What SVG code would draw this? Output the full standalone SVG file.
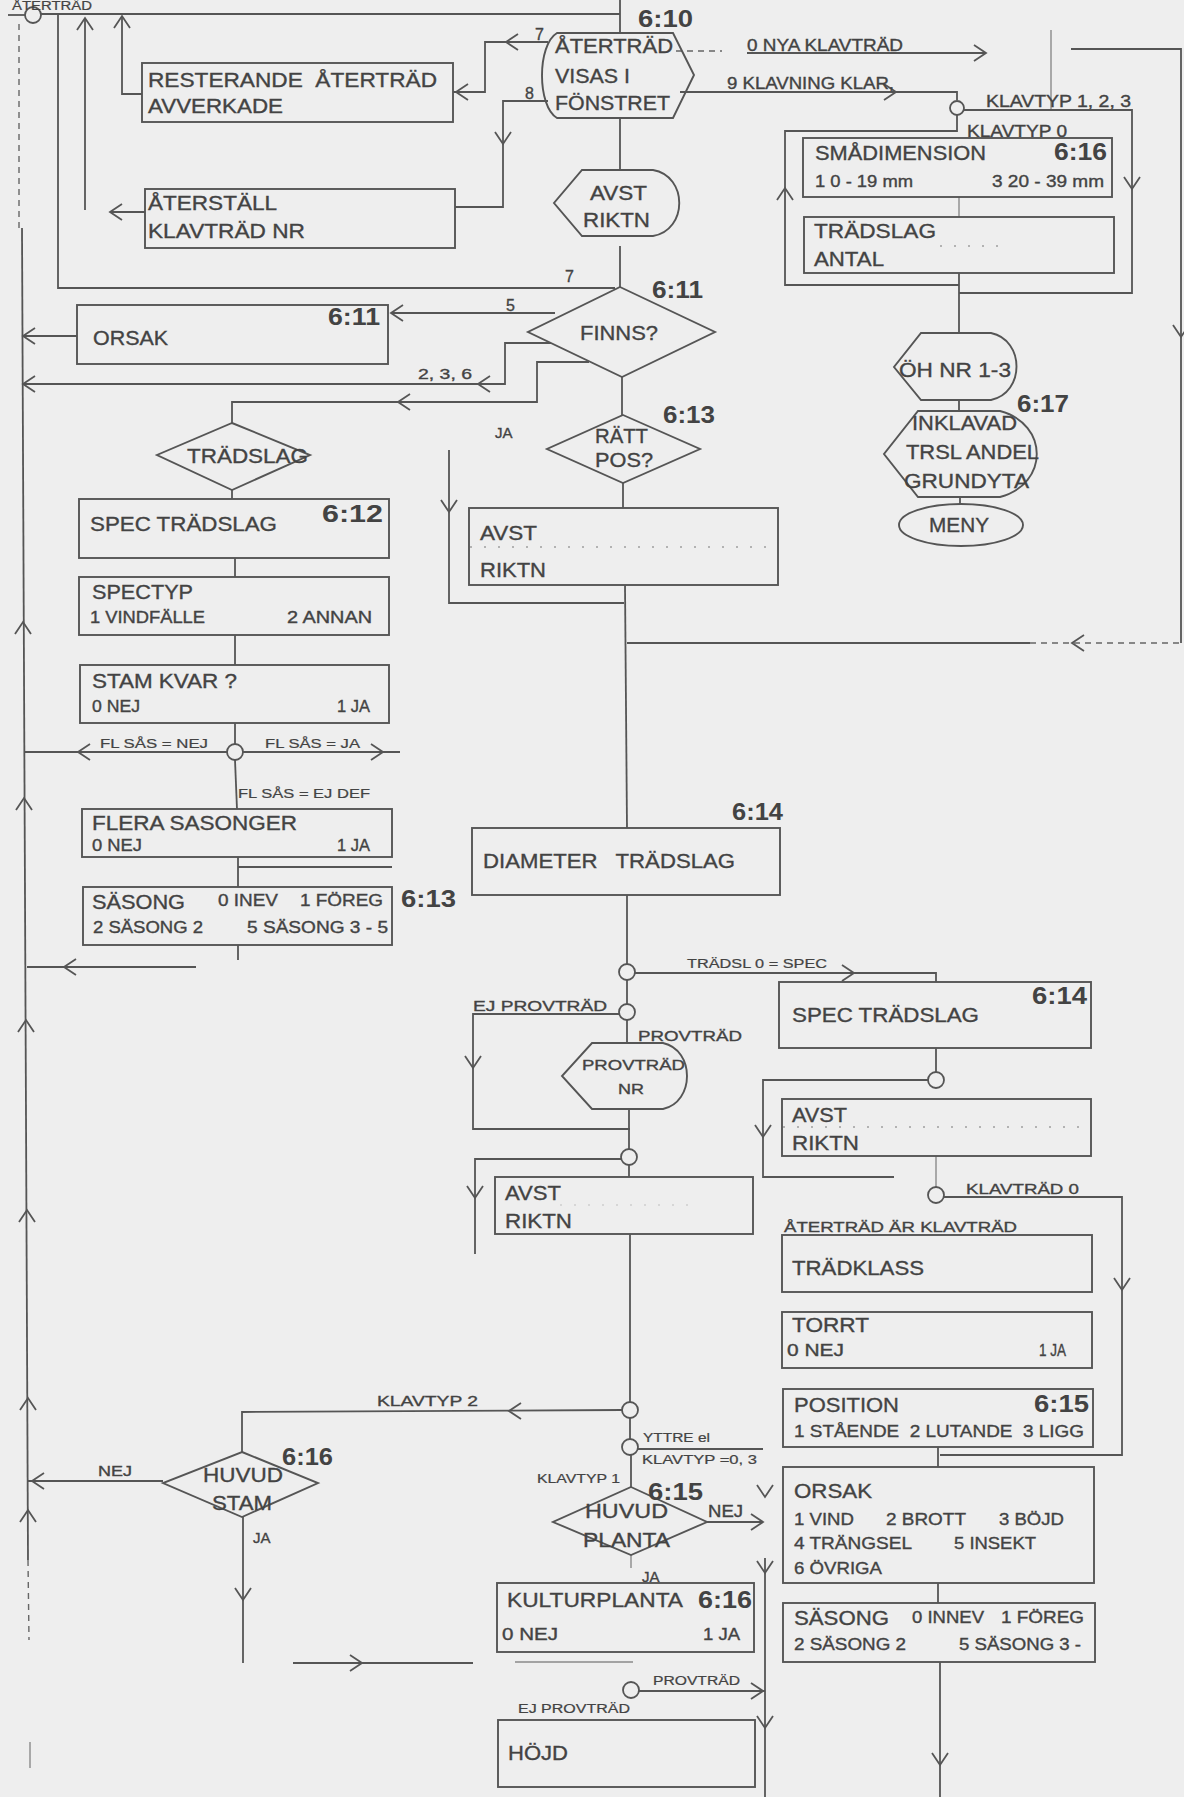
<svg xmlns="http://www.w3.org/2000/svg" xmlns:xlink="http://www.w3.org/1999/xlink" width="1184" height="1797" viewBox="0 0 1184 1797">
<style>
.bx{fill:none;stroke:#555;stroke-width:1.9}
.ln{fill:none;stroke:#555;stroke-width:1.8}
.fa{fill:none;stroke:#8a8a8a;stroke-width:1.4}
.da{fill:none;stroke:#666;stroke-width:1.4;stroke-dasharray:6 5}
.dot{fill:none;stroke:#777;stroke-width:1.2;stroke-dasharray:2 12}
text{font-family:"Liberation Sans",Arial,sans-serif;fill:#434343;stroke:#434343;stroke-width:0.35}
.t{font-size:21px}
.s{font-size:16px}
.m{font-size:15px}
.x{font-size:12px;stroke-width:0.2}
.n{font-size:23px;font-weight:bold;stroke-width:0}
</style>
<defs>
<path id="ah" d="M-12,-8 L0,0 L-12,8" fill="none" stroke="#555" stroke-width="1.8"/>
</defs>
<rect x="0" y="0" width="1184" height="1797" fill="#eeeeee"/>

<g id="connectors">
<path class="ln" d="M8,15 H25"/>
<circle class="ln" cx="33" cy="15" r="8"/>
<path class="ln" d="M41,14 H620 M620,0 V33"/>
<path class="da" d="M19,24 V228"/>
<path class="ln" d="M22,228 L28,1560"/>
<path class="da" d="M28,1560 L29,1640"/>
<path class="fa" d="M30,1742 V1768"/>
<path class="ln" d="M58,14 V288 H615"/>
<path class="ln" d="M85,210 V19"/>
<use xlink:href="#ah" transform="translate(85,18) rotate(-90)"/>
<path class="ln" d="M110,212 H145"/>
<use xlink:href="#ah" transform="translate(110,212) rotate(180)"/>
<path class="ln" d="M142,94 H122 V17"/>
<use xlink:href="#ah" transform="translate(122,16) rotate(-90)"/>
<path class="ln" d="M548,42 H485 V92 H453"/>
<use xlink:href="#ah" transform="translate(506,42) rotate(180)"/>
<use xlink:href="#ah" transform="translate(456,92) rotate(180)"/>
<path class="ln" d="M548,101 H503 V207 H455"/>
<use xlink:href="#ah" transform="translate(503,144) rotate(90)"/>
<path class="ln" d="M620,118 V170"/>
<path class="ln" d="M620,246 V287"/>
<path class="da" d="M676,51 H722"/>
<path class="ln" d="M747,53 H986"/>
<use xlink:href="#ah" transform="translate(986,53)"/>
<path class="fa" d="M1051,30 V110"/>
<path class="ln" d="M1071,49 H1181 V643"/>
<use xlink:href="#ah" transform="translate(1181,337) rotate(90)"/>
<path class="ln" d="M680,92 H957 V100"/>
<use xlink:href="#ah" transform="translate(896,92)"/>
<circle class="ln" cx="957" cy="108" r="7"/>
<path class="ln" d="M964,110 H1132 V293 H959"/>
<use xlink:href="#ah" transform="translate(1132,189) rotate(90)"/>
<path class="ln" d="M957,115 V131 H785 V285 H959"/>
<use xlink:href="#ah" transform="translate(785,188) rotate(-90)"/>
<path class="fa" d="M959,197 V217"/>
<path class="ln" d="M959,273 V333"/>
<path class="ln" d="M959,400 V411"/>
<path class="ln" d="M960,497 V504"/>
<path class="ln" d="M555,313 H391"/>
<use xlink:href="#ah" transform="translate(391,313) rotate(180)"/>
<path class="ln" d="M77,336 H23"/>
<use xlink:href="#ah" transform="translate(23,336) rotate(180)"/>
<path class="ln" d="M551,343 H505 V384 H23"/>
<use xlink:href="#ah" transform="translate(478,384) rotate(180)"/>
<use xlink:href="#ah" transform="translate(23,384) rotate(180)"/>
<path class="ln" d="M589,362 H537 V402 H232 V423"/>
<use xlink:href="#ah" transform="translate(398,402) rotate(180)"/>
<path class="ln" d="M622,377 V415"/>
<path class="ln" d="M623,483 V508"/>
<path class="ln" d="M449,450 V603 H624"/>
<use xlink:href="#ah" transform="translate(449,512) rotate(90)"/>
<path class="ln" d="M625,585 L627,828"/>
<path class="ln" d="M627,643 H1030"/>
<path class="da" d="M1030,643 H1181"/>
<use xlink:href="#ah" transform="translate(1072,643) rotate(180)"/>
<path class="ln" d="M232,490 V499 M235,558 V577 M235,635 V665 M235,723 V744"/>
<circle class="ln" cx="235" cy="752" r="8"/>
<path class="ln" d="M227,752 H25 M243,752 H400"/>
<use xlink:href="#ah" transform="translate(78,752) rotate(180)"/>
<use xlink:href="#ah" transform="translate(383,752)"/>
<path class="ln" d="M235,760 L237,809"/>
<path class="ln" d="M238,857 V887 M238,867 H392"/>
<path class="ln" d="M238,945 V960"/>
<path class="ln" d="M27,967 H196"/>
<use xlink:href="#ah" transform="translate(64,967) rotate(180)"/>
<use xlink:href="#ah" transform="translate(23,622) rotate(-90)"/>
<use xlink:href="#ah" transform="translate(24,798) rotate(-90)"/>
<use xlink:href="#ah" transform="translate(26,1020) rotate(-90)"/>
<use xlink:href="#ah" transform="translate(27,1210) rotate(-90)"/>
<use xlink:href="#ah" transform="translate(28,1398) rotate(-90)"/>
<use xlink:href="#ah" transform="translate(28,1510) rotate(-90)"/>
<path class="ln" d="M627,895 V964"/>
<circle class="ln" cx="627" cy="972" r="8"/>
<path class="ln" d="M635,973 H936 V982"/>
<use xlink:href="#ah" transform="translate(854,973)"/>
<path class="ln" d="M627,980 V1004"/>
<circle class="ln" cx="627" cy="1012" r="8"/>
<path class="ln" d="M619,1014 H473 V1129 H630"/>
<use xlink:href="#ah" transform="translate(473,1068) rotate(90)"/>
<path class="ln" d="M627,1020 V1043"/>
<path class="ln" d="M629,1109 V1149"/>
<circle class="ln" cx="629" cy="1157" r="8"/>
<path class="ln" d="M621,1159 H475 V1254"/>
<use xlink:href="#ah" transform="translate(475,1198) rotate(90)"/>
<path class="ln" d="M629,1165 V1177"/>
<path class="ln" d="M630,1234 V1402"/>
<circle class="ln" cx="630" cy="1410" r="8"/>
<path class="ln" d="M622,1410 L242,1412 V1452"/>
<use xlink:href="#ah" transform="translate(509,1411) rotate(180)"/>
<path class="ln" d="M630,1418 V1439"/>
<circle class="ln" cx="630" cy="1447" r="8"/>
<path class="ln" d="M638,1449 H763"/>
<path class="ln" d="M631,1455 V1487"/>
<path class="ln" d="M707,1522 H763"/>
<use xlink:href="#ah" transform="translate(763,1522)"/>
<use xlink:href="#ah" transform="translate(765,1497) rotate(90)"/>
<path class="ln" d="M765,1558 V1797"/>
<use xlink:href="#ah" transform="translate(765,1573) rotate(90)"/>
<use xlink:href="#ah" transform="translate(765,1728) rotate(90)"/>
<path class="fa" d="M631,1555 V1568"/>
<path class="ln" d="M163,1481 H27"/>
<use xlink:href="#ah" transform="translate(32,1481) rotate(180)"/>
<path class="ln" d="M243,1517 V1663"/>
<use xlink:href="#ah" transform="translate(243,1600) rotate(90)"/>
<path class="ln" d="M293,1663 H473"/>
<path class="fa" d="M515,1662 H633"/>
<use xlink:href="#ah" transform="translate(362,1663)"/>
<circle class="ln" cx="631" cy="1690" r="8"/>
<path class="ln" d="M639,1691 H765"/>
<use xlink:href="#ah" transform="translate(763,1691)"/>
<path class="ln" d="M936,1048 V1072"/>
<circle class="ln" cx="936" cy="1080" r="8"/>
<path class="ln" d="M928,1080 H763 V1177 H894"/>
<use xlink:href="#ah" transform="translate(763,1137) rotate(90)"/>
<path class="fa" d="M936,1156 V1187"/>
<circle class="ln" cx="936" cy="1195" r="8"/>
<path class="ln" d="M944,1197 H1122 V1455 H940"/>
<use xlink:href="#ah" transform="translate(1122,1290) rotate(90)"/>
<path class="ln" d="M938,1447 V1467"/>
<path class="ln" d="M938,1583 V1603"/>
<path class="ln" d="M940,1662 V1797"/>
<use xlink:href="#ah" transform="translate(940,1765) rotate(90)"/>
</g>

<g id="connector-labels">
<text class="x" x="12" y="10" textLength="80" lengthAdjust="spacingAndGlyphs">ÅTERTRÄD</text>
<text class="s" x="535" y="40">7</text>
<text class="s" x="525" y="99">8</text>
<text class="s" x="565" y="282">7</text>
<text class="s" x="506" y="311">5</text>
<text class="m" x="418" y="379" textLength="54" lengthAdjust="spacingAndGlyphs">2, 3, 6</text>
<text class="m" x="495" y="438">JA</text>
<text class="s" x="747" y="51" textLength="156" lengthAdjust="spacingAndGlyphs">0 NYA KLAVTRÄD</text>
<text class="s" x="727" y="89" textLength="167" lengthAdjust="spacingAndGlyphs">9 KLAVNING KLAR,</text>
<text class="s" x="986" y="107" textLength="145" lengthAdjust="spacingAndGlyphs">KLAVTYP 1, 2, 3</text>
<text class="s" x="967" y="137" textLength="100" lengthAdjust="spacingAndGlyphs">KLAVTYP 0</text>
<text class="x" x="100" y="748" textLength="108" lengthAdjust="spacingAndGlyphs">FL SÅS = NEJ</text>
<text class="x" x="265" y="748" textLength="95" lengthAdjust="spacingAndGlyphs">FL SÅS = JA</text>
<text class="x" x="238" y="798" textLength="132" lengthAdjust="spacingAndGlyphs">FL SÅS = EJ DEF</text>
<text class="x" x="687" y="968" textLength="140" lengthAdjust="spacingAndGlyphs">TRÄDSL 0 = SPEC</text>
<text class="m" x="473" y="1011" textLength="134" lengthAdjust="spacingAndGlyphs">EJ PROVTRÄD</text>
<text class="m" x="638" y="1041" textLength="104" lengthAdjust="spacingAndGlyphs">PROVTRÄD</text>
<text class="m" x="966" y="1194" textLength="113" lengthAdjust="spacingAndGlyphs">KLAVTRÄD 0</text>
<text class="m" x="784" y="1232" textLength="233" lengthAdjust="spacingAndGlyphs">ÅTERTRÄD ÄR KLAVTRÄD</text>
<text class="m" x="377" y="1406" textLength="101" lengthAdjust="spacingAndGlyphs">KLAVTYP 2</text>
<text class="m" x="98" y="1476" textLength="34" lengthAdjust="spacingAndGlyphs">NEJ</text>
<text class="m" x="253" y="1543">JA</text>
<text class="x" x="643" y="1442" textLength="67" lengthAdjust="spacingAndGlyphs">YTTRE el</text>
<text class="x" x="642" y="1464" textLength="115" lengthAdjust="spacingAndGlyphs">KLAVTYP =0, 3</text>
<text class="x" x="537" y="1483" textLength="83" lengthAdjust="spacingAndGlyphs">KLAVTYP 1</text>
<text class="s" x="708" y="1517" textLength="35" lengthAdjust="spacingAndGlyphs">NEJ</text>
<text class="m" x="642" y="1582">JA</text>
<text class="x" x="653" y="1685" textLength="87" lengthAdjust="spacingAndGlyphs">PROVTRÄD</text>
<text class="x" x="518" y="1713" textLength="112" lengthAdjust="spacingAndGlyphs">EJ PROVTRÄD</text>
</g>

<g id="n-resterande">
<rect class="bx" x="142" y="63" width="311" height="59"/>
<text class="t" x="148" y="87" xml:space="preserve" textLength="289" lengthAdjust="spacingAndGlyphs">RESTERANDE  ÅTERTRÄD</text>
<text class="t" x="148" y="113" textLength="135" lengthAdjust="spacingAndGlyphs">AVVERKADE</text>
</g>
<g id="n-aterstall">
<rect class="bx" x="145" y="189" width="310" height="59"/>
<text class="t" x="148" y="210" textLength="129" lengthAdjust="spacingAndGlyphs">ÅTERSTÄLL</text>
<text class="t" x="148" y="238" textLength="157" lengthAdjust="spacingAndGlyphs">KLAVTRÄD NR</text>
</g>
<g id="n-610">
<path class="bx" d="M557,33 L673,33 L694,75 L673,118 L557,118 C537,106 537,45 557,33 Z"/>
<text class="t" x="555" y="53" textLength="118" lengthAdjust="spacingAndGlyphs">ÅTERTRÄD</text>
<text class="t" x="555" y="83" textLength="75" lengthAdjust="spacingAndGlyphs">VISAS I</text>
<text class="t" x="555" y="110" textLength="115" lengthAdjust="spacingAndGlyphs">FÖNSTRET</text>
<text class="n" x="638" y="27" textLength="55" lengthAdjust="spacingAndGlyphs">6:10</text>
</g>
<g id="n-avst-top">
<path class="bx" d="M582,170 L653,170 C688,176 688,230 653,236 L582,236 L554,203 Z"/>
<text class="t" x="590" y="200" textLength="57" lengthAdjust="spacingAndGlyphs">AVST</text>
<text class="t" x="583" y="227" textLength="67" lengthAdjust="spacingAndGlyphs">RIKTN</text>
</g>
<g id="n-finns">
<polygon class="bx" points="620,287 715,332 622,377 528,332"/>
<text class="t" x="580" y="340" textLength="78" lengthAdjust="spacingAndGlyphs">FINNS?</text>
<text class="n" x="652" y="298" textLength="51" lengthAdjust="spacingAndGlyphs">6:11</text>
</g>
<g id="n-orsak-l">
<rect class="bx" x="77" y="305" width="311" height="59"/>
<text class="t" x="93" y="345" textLength="75" lengthAdjust="spacingAndGlyphs">ORSAK</text>
<text class="n" x="328" y="325" textLength="52" lengthAdjust="spacingAndGlyphs">6:11</text>
</g>
<g id="n-ratt">
<polygon class="bx" points="623,415 700,449 623,483 547,449"/>
<text class="t" x="595" y="443" textLength="53" lengthAdjust="spacingAndGlyphs">RÄTT</text>
<text class="t" x="595" y="467" textLength="58" lengthAdjust="spacingAndGlyphs">POS?</text>
<text class="n" x="663" y="423" textLength="52" lengthAdjust="spacingAndGlyphs">6:13</text>
</g>
<g id="n-avst-c">
<rect class="bx" x="469" y="508" width="309" height="77"/>
<path class="dot" d="M470,547 H778"/>
<text class="t" x="480" y="540" textLength="57" lengthAdjust="spacingAndGlyphs">AVST</text>
<text class="t" x="480" y="577" textLength="66" lengthAdjust="spacingAndGlyphs">RIKTN</text>
</g>
<g id="n-smadim">
<rect class="bx" x="803" y="138" width="309" height="59"/>
<text class="t" x="815" y="160" textLength="171" lengthAdjust="spacingAndGlyphs">SMÅDIMENSION</text>
<text class="n" x="1054" y="160" textLength="53" lengthAdjust="spacingAndGlyphs">6:16</text>
<text class="s" x="815" y="187" textLength="98" lengthAdjust="spacingAndGlyphs">1 0 - 19 mm</text>
<text class="s" x="992" y="187" textLength="112" lengthAdjust="spacingAndGlyphs">3 20 - 39 mm</text>
</g>
<g id="n-tradslag-antal">
<rect class="bx" x="804" y="217" width="310" height="56"/>
<path class="dot" d="M940,246 H1010"/>
<text class="t" x="814" y="238" textLength="122" lengthAdjust="spacingAndGlyphs">TRÄDSLAG</text>
<text class="t" x="814" y="266" textLength="70" lengthAdjust="spacingAndGlyphs">ANTAL</text>
</g>
<g id="n-oh">
<path class="bx" d="M921,333 L991,333 C1025,340 1025,393 991,400 L921,400 L894,367 Z"/>
<text class="t" x="899" y="377" textLength="112" lengthAdjust="spacingAndGlyphs">ÖH NR 1-3</text>
</g>
<g id="n-inklavad">
<path class="bx" d="M918,411 L1000,411 C1049,424 1049,484 1000,497 L918,497 L884,454 Z"/>
<text class="t" x="912" y="430" textLength="105" lengthAdjust="spacingAndGlyphs">INKLAVAD</text>
<text class="t" x="906" y="459" textLength="133" lengthAdjust="spacingAndGlyphs">TRSL ANDEL</text>
<text class="t" x="904" y="488" textLength="125" lengthAdjust="spacingAndGlyphs">GRUNDYTA</text>
<text class="n" x="1017" y="412" textLength="52" lengthAdjust="spacingAndGlyphs">6:17</text>
</g>
<g id="n-meny">
<ellipse class="bx" cx="961" cy="525" rx="62" ry="21"/>
<text class="t" x="929" y="532" textLength="60" lengthAdjust="spacingAndGlyphs">MENY</text>
</g>
<g id="n-tradslag-d">
<polygon class="bx" points="232,423 310,455 232,490 157,455"/>
<text class="t" x="187" y="463" textLength="121" lengthAdjust="spacingAndGlyphs">TRÄDSLAG</text>
</g>
<g id="n-spec-l">
<rect class="bx" x="79" y="499" width="310" height="59"/>
<text class="t" x="90" y="531" textLength="187" lengthAdjust="spacingAndGlyphs">SPEC TRÄDSLAG</text>
<text class="n" x="322" y="522" textLength="61" lengthAdjust="spacingAndGlyphs">6:12</text>
</g>
<g id="n-spectyp">
<rect class="bx" x="79" y="577" width="310" height="58"/>
<text class="t" x="92" y="599" textLength="101" lengthAdjust="spacingAndGlyphs">SPECTYP</text>
<text class="s" x="90" y="623" textLength="115" lengthAdjust="spacingAndGlyphs">1 VINDFÄLLE</text>
<text class="s" x="287" y="623" textLength="85" lengthAdjust="spacingAndGlyphs">2 ANNAN</text>
</g>
<g id="n-stamkvar">
<rect class="bx" x="80" y="665" width="309" height="58"/>
<text class="t" x="92" y="688" textLength="145" lengthAdjust="spacingAndGlyphs">STAM KVAR ?</text>
<text class="s" x="92" y="712" textLength="48" lengthAdjust="spacingAndGlyphs">0 NEJ</text>
<text class="s" x="337" y="712" textLength="33" lengthAdjust="spacingAndGlyphs">1 JA</text>
</g>
<g id="n-flera">
<rect class="bx" x="82" y="809" width="310" height="48"/>
<text class="t" x="92" y="830" textLength="205" lengthAdjust="spacingAndGlyphs">FLERA SASONGER</text>
<text class="s" x="92" y="851" textLength="50" lengthAdjust="spacingAndGlyphs">0 NEJ</text>
<text class="s" x="337" y="851" textLength="33" lengthAdjust="spacingAndGlyphs">1 JA</text>
</g>
<g id="n-sasong-l">
<rect class="bx" x="83" y="887" width="309" height="58"/>
<text class="t" x="92" y="909" textLength="93" lengthAdjust="spacingAndGlyphs">SÄSONG</text>
<text class="s" x="218" y="906" textLength="60" lengthAdjust="spacingAndGlyphs">0 INEV</text>
<text class="s" x="300" y="906" textLength="83" lengthAdjust="spacingAndGlyphs">1 FÖREG</text>
<text class="s" x="93" y="933" textLength="110" lengthAdjust="spacingAndGlyphs">2 SÄSONG 2</text>
<text class="s" x="247" y="933" textLength="141" lengthAdjust="spacingAndGlyphs">5 SÄSONG 3 - 5</text>
<text class="n" x="401" y="907" textLength="55" lengthAdjust="spacingAndGlyphs">6:13</text>
</g>
<g id="n-diameter">
<rect class="bx" x="472" y="828" width="308" height="67"/>
<text class="t" x="483" y="868" xml:space="preserve" textLength="252" lengthAdjust="spacingAndGlyphs">DIAMETER   TRÄDSLAG</text>
<text class="n" x="732" y="820" textLength="51" lengthAdjust="spacingAndGlyphs">6:14</text>
</g>
<g id="n-provtrad-nr">
<path class="bx" d="M592,1043 L663,1043 C695,1050 695,1102 663,1109 L592,1109 L562,1076 Z"/>
<text class="m" x="582" y="1070" textLength="103" lengthAdjust="spacingAndGlyphs">PROVTRÄD</text>
<text class="m" x="618" y="1094" textLength="26" lengthAdjust="spacingAndGlyphs">NR</text>
</g>
<g id="n-avst-m">
<rect class="bx" x="495" y="1177" width="258" height="57"/>
<path class="dot" d="M560,1205 H700" stroke-opacity="0.4"/>
<text class="t" x="505" y="1200" textLength="56" lengthAdjust="spacingAndGlyphs">AVST</text>
<text class="t" x="505" y="1228" textLength="67" lengthAdjust="spacingAndGlyphs">RIKTN</text>
</g>
<g id="n-spec-r">
<rect class="bx" x="779" y="982" width="312" height="66"/>
<text class="t" x="792" y="1022" textLength="187" lengthAdjust="spacingAndGlyphs">SPEC TRÄDSLAG</text>
<text class="n" x="1032" y="1004" textLength="55" lengthAdjust="spacingAndGlyphs">6:14</text>
</g>
<g id="n-avst-r">
<rect class="bx" x="782" y="1099" width="309" height="57"/>
<path class="dot" d="M783,1127 H1090"/>
<text class="t" x="792" y="1122" textLength="55" lengthAdjust="spacingAndGlyphs">AVST</text>
<text class="t" x="792" y="1150" textLength="67" lengthAdjust="spacingAndGlyphs">RIKTN</text>
</g>
<g id="n-tradklass">
<rect class="bx" x="782" y="1235" width="310" height="57"/>
<text class="t" x="792" y="1275" textLength="132" lengthAdjust="spacingAndGlyphs">TRÄDKLASS</text>
</g>
<g id="n-torrt">
<rect class="bx" x="782" y="1312" width="310" height="56"/>
<text class="t" x="792" y="1332" textLength="77" lengthAdjust="spacingAndGlyphs">TORRT</text>
<text class="s" x="787" y="1356" textLength="57" lengthAdjust="spacingAndGlyphs">0 NEJ</text>
<text class="s" x="1039" y="1356" textLength="27" lengthAdjust="spacingAndGlyphs">1 JA</text>
</g>
<g id="n-position">
<rect class="bx" x="783" y="1389" width="310" height="58"/>
<text class="t" x="794" y="1412" textLength="105" lengthAdjust="spacingAndGlyphs">POSITION</text>
<text class="n" x="1034" y="1412" textLength="55" lengthAdjust="spacingAndGlyphs">6:15</text>
<text style="font-size:17px" x="794" y="1437" xml:space="preserve" textLength="290" lengthAdjust="spacingAndGlyphs">1 STÅENDE  2 LUTANDE  3 LIGG</text>
</g>
<g id="n-orsak-r">
<rect class="bx" x="783" y="1467" width="311" height="116"/>
<text class="t" x="794" y="1498" textLength="78" lengthAdjust="spacingAndGlyphs">ORSAK</text>
<text style="font-size:17px" x="794" y="1525" textLength="60" lengthAdjust="spacingAndGlyphs">1 VIND</text>
<text style="font-size:17px" x="886" y="1525" textLength="80" lengthAdjust="spacingAndGlyphs">2 BROTT</text>
<text style="font-size:17px" x="999" y="1525" textLength="65" lengthAdjust="spacingAndGlyphs">3 BÖJD</text>
<text style="font-size:17px" x="794" y="1549" textLength="118" lengthAdjust="spacingAndGlyphs">4 TRÄNGSEL</text>
<text style="font-size:17px" x="954" y="1549" textLength="82" lengthAdjust="spacingAndGlyphs">5 INSEKT</text>
<text style="font-size:17px" x="794" y="1574" textLength="88" lengthAdjust="spacingAndGlyphs">6 ÖVRIGA</text>
</g>
<g id="n-sasong-r">
<rect class="bx" x="783" y="1603" width="312" height="59"/>
<text class="t" x="794" y="1625" textLength="95" lengthAdjust="spacingAndGlyphs">SÄSONG</text>
<text class="s" x="912" y="1623" textLength="72" lengthAdjust="spacingAndGlyphs">0 INNEV</text>
<text class="s" x="1001" y="1623" textLength="83" lengthAdjust="spacingAndGlyphs">1 FÖREG</text>
<text class="s" x="794" y="1650" textLength="112" lengthAdjust="spacingAndGlyphs">2 SÄSONG 2</text>
<text class="s" x="959" y="1650" textLength="122" lengthAdjust="spacingAndGlyphs">5 SÄSONG 3 -</text>
</g>
<g id="n-huvud-stam">
<polygon class="bx" points="242,1452 318,1483 242,1517 163,1483"/>
<text class="t" x="203" y="1482" textLength="80" lengthAdjust="spacingAndGlyphs">HUVUD</text>
<text class="t" x="212" y="1510" textLength="60" lengthAdjust="spacingAndGlyphs">STAM</text>
<text class="n" x="282" y="1465" textLength="51" lengthAdjust="spacingAndGlyphs">6:16</text>
</g>
<g id="n-huvud-planta">
<polygon class="bx" points="631,1487 707,1522 631,1555 553,1522"/>
<text class="t" x="585" y="1518" textLength="83" lengthAdjust="spacingAndGlyphs">HUVUD</text>
<text class="t" x="583" y="1547" textLength="87" lengthAdjust="spacingAndGlyphs">PLANTA</text>
<text class="n" x="648" y="1500" textLength="55" lengthAdjust="spacingAndGlyphs">6:15</text>
</g>
<g id="n-kulturplanta">
<rect class="bx" x="497" y="1583" width="257" height="69"/>
<text class="t" x="507" y="1607" textLength="176" lengthAdjust="spacingAndGlyphs">KULTURPLANTA</text>
<text class="n" x="698" y="1608" textLength="54" lengthAdjust="spacingAndGlyphs">6:16</text>
<text class="s" x="502" y="1640" textLength="56" lengthAdjust="spacingAndGlyphs">0 NEJ</text>
<text class="s" x="703" y="1640" textLength="37" lengthAdjust="spacingAndGlyphs">1 JA</text>
</g>
<g id="n-hojd">
<rect class="bx" x="498" y="1720" width="257" height="67"/>
<text class="t" x="508" y="1760" textLength="60" lengthAdjust="spacingAndGlyphs">HÖJD</text>
</g>
</svg>
